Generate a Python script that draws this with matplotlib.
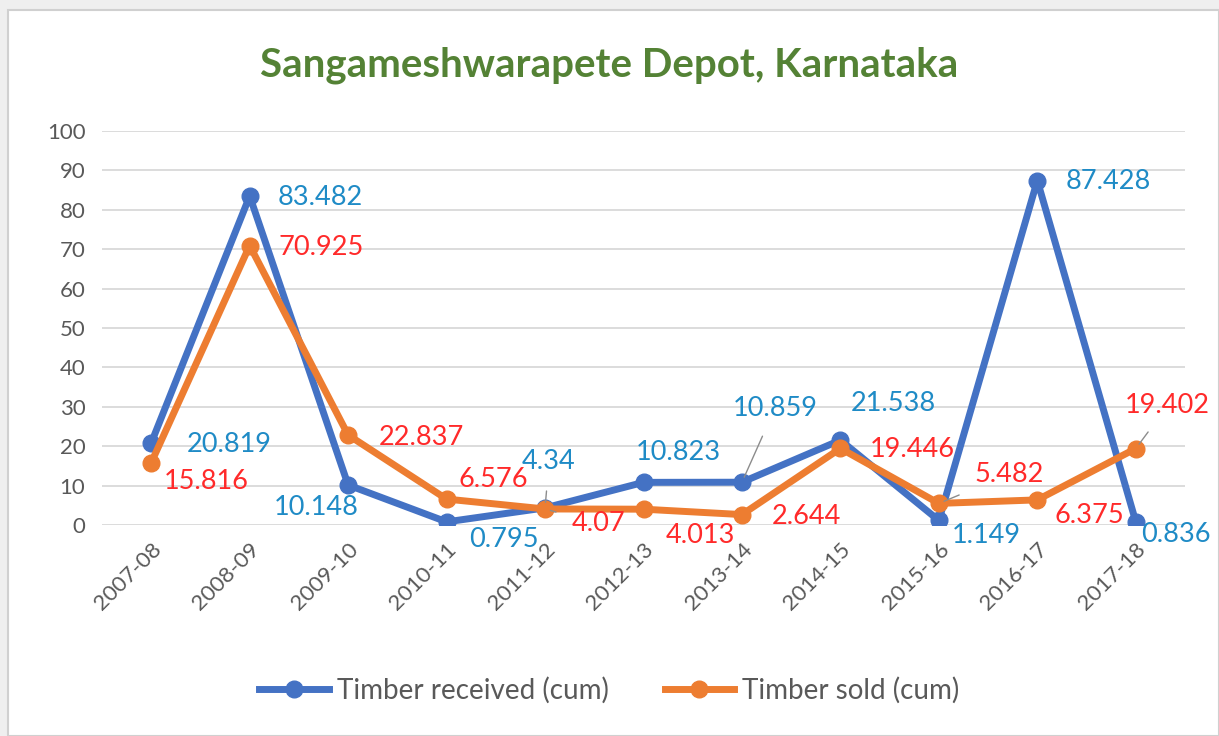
import matplotlib.pyplot as plt
from matplotlib.patches import Rectangle

# data
years = ['2007-08', '2008-09', '2009-10', '2010-11', '2011-12', '2012-13',
         '2013-14', '2014-15', '2015-16', '2016-17', '2017-18']
received = [20.819, 83.482, 10.148, 0.795, 4.34, 10.823, 10.859, 21.538, 1.149, 87.428, 0.836]
sold = [15.816, 70.925, 22.837, 6.576, 4.07, 4.013, 2.644, 19.446, 5.482, 6.375, 19.402]
received_lbl = ['20.819', '83.482', '10.148', '0.795', '4.34', '10.823', '10.859', '21.538', '1.149', '87.428', '0.836']
sold_lbl = ['15.816', '70.925', '22.837', '6.576', '4.07', '4.013', '2.644', '19.446', '5.482', '6.375', '19.402']

# label offsets in pixels (dx, dy), and whether a leader line is drawn
rec_off = [(78, -2), (71, -1), (-32, -22), (57, -18), (4, 46), (35, 30), (33, 74), (53, 37), (47, -15), (71, -1), (40, -13)]
rec_lead = [False, False, False, False, True, False, True, False, False, False, False]
sold_off = [(55, -19), (71, -2), (73, -2), (47, 20), (54, -15), (57, -26), (64, -2), (72, -1), (70, 29), (52, -16), (32, 43)]
sold_lead = [False, False, False, False, True, False, False, False, True, False, True]

blue = '#4472C4'
orange = '#ED7D31'
blue_txt = '#1F8BC6'
red_txt = '#FF2A2A'
gray = '#595959'

plt.rcParams['font.family'] = ['Lato', 'DejaVu Sans']

fig = plt.figure(figsize=(12.19, 7.36), dpi=100, facecolor='#efefef')
fig.patches.append(Rectangle((8 / 1219, 0), 1 - 8 / 1219, 1 - 10 / 736, transform=fig.transFigure,
                             facecolor='white', edgecolor='#d0d0d0', linewidth=1.5, zorder=-10))

ax = fig.add_axes([102 / 1219, 211 / 736, 1083 / 1219, 394 / 736])
ax.set_facecolor('none')

x = list(range(len(years)))
l1, = ax.plot(x, received, color=blue, linewidth=5, marker='o', markersize=12,
              label='Timber received (cum)', zorder=3)
l2, = ax.plot(x, sold, color=orange, linewidth=5, marker='o', markersize=12,
              label='Timber sold (cum)', zorder=4)

for i in x:
    ap = dict(arrowstyle='-', color='#8c8c8c', lw=1, shrinkA=10, shrinkB=4) if rec_lead[i] else None
    ax.annotate(received_lbl[i], (i, received[i]), xytext=rec_off[i], textcoords='offset pixels',
                ha='center', va='center', fontsize=19.5, color=blue_txt, arrowprops=ap, zorder=5)
    ap = dict(arrowstyle='-', color='#8c8c8c', lw=1, shrinkA=10, shrinkB=4) if sold_lead[i] else None
    ax.annotate(sold_lbl[i], (i, sold[i]), xytext=sold_off[i], textcoords='offset pixels',
                ha='center', va='center', fontsize=19.5, color=red_txt, arrowprops=ap, zorder=5)

ax.set_xlim(-0.5, 10.5)
ax.set_ylim(0, 100)
ax.set_yticks(range(0, 101, 10))
ax.set_xticks(x)
ax.set_xticklabels(years, rotation=45, ha='right', rotation_mode='anchor')
ax.tick_params(axis='both', length=0, labelsize=16, labelcolor=gray)
ax.tick_params(axis='x', pad=10)
ax.tick_params(axis='y', pad=12)
ax.grid(axis='y', color='#d9d9d9', linewidth=1.3)
ax.set_axisbelow(True)
for s in ax.spines.values():
    s.set_visible(False)

fig.text(0.5, 1 - 65 / 736, 'Sangameshwarapete Depot, Karnataka', ha='center', va='center',
         fontsize=29, fontweight='bold', color='#548235')

fig.legend(handles=[l1, l2], loc='center', bbox_to_anchor=(0.5, 1 - 690 / 736), ncol=2,
           frameon=False, fontsize=20, labelcolor=gray, handlelength=2.5, columnspacing=2,
           handletextpad=0.3)

plt.savefig('out.png', dpi=100, facecolor=fig.get_facecolor())
